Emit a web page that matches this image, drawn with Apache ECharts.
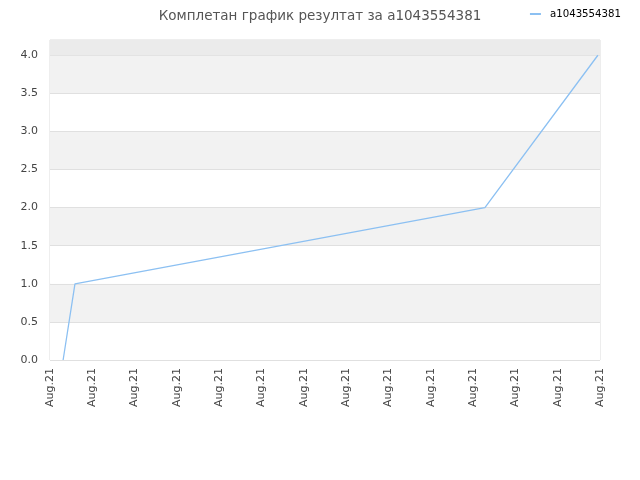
<!DOCTYPE html>
<html><head><meta charset="utf-8">
<script src="https://cdn.jsdelivr.net/npm/echarts@6/dist/echarts.min.js"></script>
<style>html,body{margin:0;padding:0;background:#fff}#c{width:640px;height:480px}</style>
</head><body><div id="c"></div>
<script>
var titleText = 'Комплетан график резултат за a1043554381';
var seriesName = 'a1043554381';
var xPositions = [0.31, 0.59, 10.28, 12.95];
var values = [0, 1, 2, 4];
var tickLabel = 'Aug.21';
var xMin = 0, xMax = 13, xStep = 1;
var yMin = 0, yMax = 4.2, yStep = 0.5;

var data = xPositions.map(function(x, i){ return [x, values[i]]; });
var chart = echarts.init(document.getElementById('c'), null, {renderer:'canvas'});
chart.setOption({
  animation:false,
  title:{text:titleText, left:'center', top:4, textStyle:{fontSize:13.5, fontWeight:'normal', color:'#555', fontFamily:'DejaVu Sans'}},
  legend:{right:14, top:4, itemWidth:11, itemHeight:2, icon:'rect', textStyle:{fontSize:10.2, color:'#000', fontFamily:'DejaVu Sans', padding:[0,0,0,4]}, data:[seriesName]},
  grid:{left:50, right:40, top:40, bottom:120, show:true, borderColor:'#dcdcdc', borderWidth:1, backgroundColor:'transparent'},
  xAxis:{type:'value', min:xMin, max:xMax, interval:xStep,
    axisLine:{show:false}, axisTick:{show:false}, splitLine:{show:false},
    axisLabel:{rotate:90, fontSize:11, color:'#444', fontFamily:'DejaVu Sans', formatter:function(){return tickLabel;}, margin:8}},
  yAxis:{type:'value', min:yMin, max:yMax, interval:yStep,
    axisLine:{show:false}, axisTick:{show:false},
    splitLine:{show:true, lineStyle:{color:'#e0e0e0', width:1}},
    splitArea:{show:true, areaStyle:{color:['#ffffff','#f2f2f2']}},
    axisLabel:{fontSize:11, color:'#444', fontFamily:'DejaVu Sans', showMaxLabel:false, margin:12,
      formatter:function(v){return v.toFixed(1);}}},
  series:[{name:seriesName, type:'line', data:data, showSymbol:false, symbol:'none',
    lineStyle:{color:'#8cc0f2', width:1.3}, itemStyle:{color:'#8cc0f2'},
    markArea:{silent:true, itemStyle:{color:'#ebebeb'}, data:[[{yAxis:4.0},{yAxis:4.2}]]}}]
});
</script></body></html>
